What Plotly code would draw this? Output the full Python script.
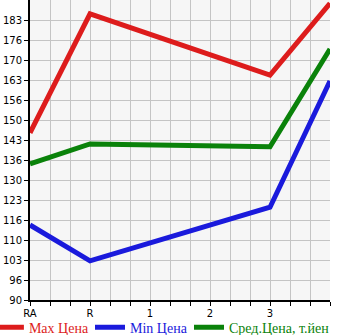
import plotly.graph_objects as go

x_pos = [0, 1, 4, 5]
max_price = [145.5, 185.0, 164.7, 188.5]
min_price = [114.9, 103.0, 120.8, 162.7]
avg_price = [135.2, 141.8, 140.9, 173.3]

x_labels = ["RA", "R", "1", "2", "3"]

y_step = 6.64
y_ticktext = ["90", "96", "103", "110", "116", "123", "130", "136", "143",
              "150", "156", "163", "170", "176", "183"]
y_tickvals = [90 + i * y_step for i in range(len(y_ticktext))]

# x grid every 1/3 unit, labels on whole units
x_tickvals = [i / 3 for i in range(16)]
x_ticktext = [x_labels[i // 3] if (i % 3 == 0 and i // 3 < len(x_labels)) else "" for i in range(16)]

series = [
    ("Max Цена", max_price, "#dd1c1c", "legend", -0.137),
    ("Min Цена", min_price, "#1a1adc", "legend2", 0.20),
    ("Сред.Цена, т.йен", avg_price, "#0a820a", "legend3", 0.53),
]

fig = go.Figure()
for name, vals, color, lg, lx in series:
    fig.add_trace(go.Scatter(x=x_pos, y=vals, mode="lines",
                             name=f"<span style='color:{color}'>{name}</span>",
                             legend=lg, line=dict(color=color, width=5)))

leg_common = dict(orientation="h", xref="paper", yref="container",
                  xanchor="left", y=0.022, yanchor="middle",
                  font=dict(family="Liberation Serif", size=14),
                  itemwidth=30, bgcolor="rgba(0,0,0,0)", borderwidth=0)

fig.update_layout(
    width=345, height=335,
    margin=dict(l=30, r=15, t=0, b=35, autoexpand=False),
    paper_bgcolor="white",
    plot_bgcolor="#f6f6f6",
    showlegend=True,
    legend=dict(x=series[0][4], **leg_common),
    legend2=dict(x=series[1][4], **leg_common),
    legend3=dict(x=series[2][4], **leg_common),
    font=dict(family="DejaVu Sans", size=10, color="black"),
)
fig.update_xaxes(range=[0, 5], tickmode="array", tickvals=x_tickvals, ticktext=x_ticktext,
                 showgrid=True, gridcolor="#c4c4c4", gridwidth=1, zeroline=False,
                 showline=True, linecolor="black", linewidth=2,
                 ticks="outside", ticklen=4, tickcolor="black", ticklabelstandoff=-1)
fig.update_yaxes(range=[90, 90 + 15 * y_step], tickmode="array", tickvals=y_tickvals,
                 ticktext=y_ticktext, showgrid=True, gridcolor="#c4c4c4", gridwidth=1,
                 zeroline=False, showline=True, linecolor="black", linewidth=2,
                 ticks="outside", ticklen=4, tickcolor="black")

fig.write_html("out.html")
